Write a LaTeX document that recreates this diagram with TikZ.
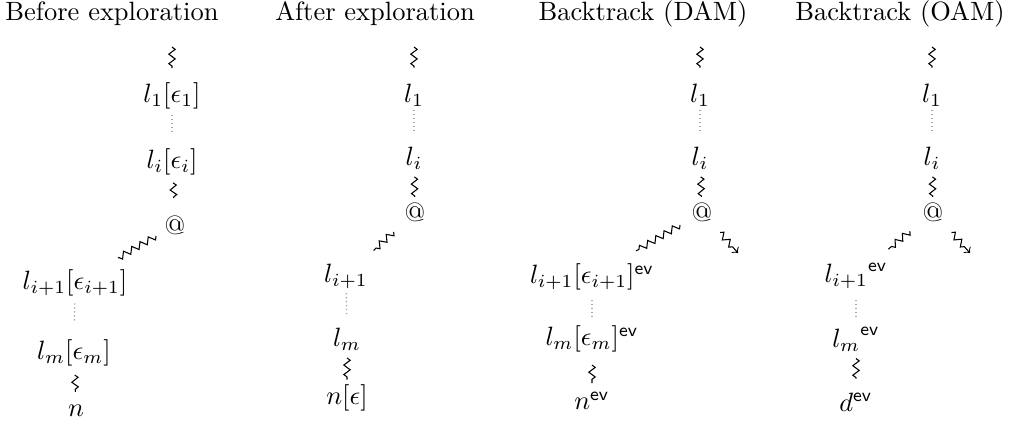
\documentclass[tikz,border=0pt]{standalone}
\usetikzlibrary{decorations.pathmorphing,calc}
\begin{document}
\begin{tikzpicture}[x=0.3778pt,y=-0.3778pt]
\tikzset{
  lbl/.style={inner sep=0pt, anchor=center},
  ttl/.style={inner sep=0pt, anchor=center},
  snk/.style={decorate, decoration={zigzag, segment length=3.6pt, amplitude=1.2pt}, line width=0.4pt},
  snkarr/.style={->, line width=0.4pt, decorate, decoration={zigzag, segment length=3.6pt, amplitude=1.2pt, post length=2pt}},
  dts/.style={densely dotted, gray!70, line width=0.5pt}
}
\useasboundingbox (0,0) rectangle (1010,425);
% column 1
\node[ttl] (t1) at (112,14) {Before exploration};
\coordinate (s1) at (172,47);
\node[lbl] (a1) at (172,96) {$l_1[\epsilon_1]$};
\node[lbl] (b1) at (172,162) {$l_i[\epsilon_i]$};
\node[lbl] (c1) at (175,225) {@};
\node[lbl] (d1) at (75,283) {$l_{i+1}[\epsilon_{i+1}]$};
\node[lbl] (e1) at (74,353) {$l_m[\epsilon_m]$};
\node[lbl] (f1) at (76,411) {$n$};
\draw[snk] (s1) -- ($(s1)!0.43!(a1)$);
\draw[dts] ($(a1)!0.29!(b1)$) -- ($(a1)!0.59!(b1)$);
\draw[snk] ($(b1)!0.33!(c1)$) -- ($(b1)!0.57!(c1)$);
\draw[snk] ($(c1)!0.19!(d1)$) -- ($(c1)!0.57!(d1)$);
\draw[dts] ($(d1)!0.29!(e1)$) -- ($(d1)!0.57!(e1)$);
\draw[snk] ($(e1)!0.38!(f1)$) -- ($(e1)!0.67!(f1)$);
% column 2
\node[ttl] (t2) at (375,14) {After exploration};
\coordinate (s2) at (414,47);
\node[lbl] (a2) at (414,95) {$l_1$};
\node[lbl] (b2) at (414,158) {$l_i$};
\node[lbl] (c2) at (415,212) {@};
\node[lbl] (d2) at (346,276) {$l_{i+1}$};
\node[lbl] (e2) at (347,339) {$l_m$};
\node[lbl] (f2) at (347,398) {$n[\epsilon]$};
\draw[snk] (s2) -- ($(s2)!0.43!(a2)$);
\draw[dts] ($(a2)!0.24!(b2)$) -- ($(a2)!0.59!(b2)$);
\draw[snk] ($(b2)!0.35!(c2)$) -- ($(b2)!0.72!(c2)$);
\draw[snk] ($(c2)!0.31!(d2)$) -- ($(c2)!0.6!(d2)$);
\draw[dts] ($(d2)!0.27!(e2)$) -- ($(d2)!0.62!(e2)$);
\draw[snk] ($(e2)!0.32!(f2)$) -- ($(e2)!0.69!(f2)$);
% column 3
\node[ttl] (t3) at (643,14) {Backtrack (DAM)};
\coordinate (s3) at (700,47);
\node[lbl] (a3) at (700,95) {$l_1$};
\node[lbl] (b3) at (700,158) {$l_i$};
\node[lbl] (c3) at (702,212) {@};
\node[lbl] (d3) at (592,277) {$l_{i+1}[\epsilon_{i+1}]^{\mathsf{ev}}$};
\node[lbl] (e3) at (592,339) {$l_m[\epsilon_m]^{\mathsf{ev}}$};
\node[lbl] (f3) at (592,401) {$n^{\mathsf{ev}}$};
\coordinate (r3) at (738,253);
\draw[snk] (s3) -- ($(s3)!0.43!(a3)$);
\draw[dts] ($(a3)!0.24!(b3)$) -- ($(a3)!0.59!(b3)$);
\draw[snk] ($(b3)!0.35!(c3)$) -- ($(b3)!0.72!(c3)$);
\draw[snk] ($(c3)!0.2!(d3)$) -- ($(c3)!0.6!(d3)$);
\draw[snkarr] ($(c3)!0.5!(r3)$) -- (r3);
\draw[dts] ($(d3)!0.37!(e3)$) -- ($(d3)!0.69!(e3)$);
\draw[snk] ($(e3)!0.42!(f3)$) -- ($(e3)!0.71!(f3)$);
% column 4
\node[ttl] (t4) at (900,14) {Backtrack (OAM)};
\coordinate (s4) at (932,47);
\node[lbl] (a4) at (932,95) {$l_1$};
\node[lbl] (b4) at (932,158) {$l_i$};
\node[lbl] (c4) at (933,212) {@};
\node[lbl] (d4) at (856,276) {${l_{i+1}}^{\mathsf{ev}}$};
\node[lbl] (e4) at (856,339) {${l_m}^{\mathsf{ev}}$};
\node[lbl] (f4) at (856,402) {$d^{\mathsf{ev}}$};
\coordinate (r4) at (970,253);
\draw[snk] (s4) -- ($(s4)!0.43!(a4)$);
\draw[dts] ($(a4)!0.24!(b4)$) -- ($(a4)!0.59!(b4)$);
\draw[snk] ($(b4)!0.35!(c4)$) -- ($(b4)!0.72!(c4)$);
\draw[snk] ($(c4)!0.3!(d4)$) -- ($(c4)!0.58!(d4)$);
\draw[snkarr] ($(c4)!0.5!(r4)$) -- (r4);
\draw[dts] ($(d4)!0.38!(e4)$) -- ($(d4)!0.65!(e4)$);
\draw[snk] ($(e4)!0.31!(f4)$) -- ($(e4)!0.63!(f4)$);
\end{tikzpicture}
\end{document}
